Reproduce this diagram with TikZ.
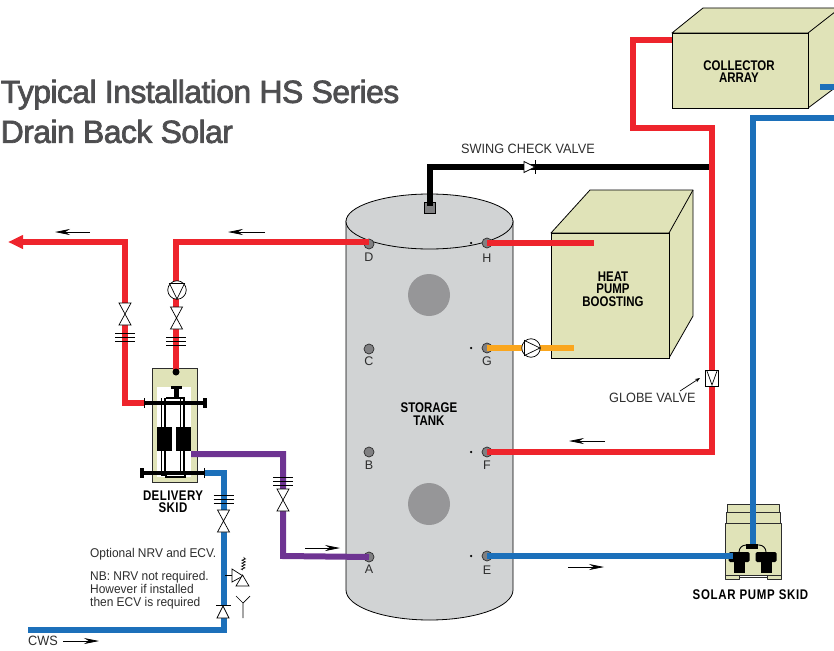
\documentclass[tikz,border=0pt]{standalone}
\usepackage{fontspec}
\setmainfont{Liberation Sans}
\newfontfamily\condfont[FakeStretch=0.82]{Liberation Sans}
\newfontfamily\labelfont[FakeStretch=0.94]{Liberation Sans}
\newfontfamily\titlefont[FakeBold=2.2, LetterSpace=-1.9]{Liberation Sans}
\usetikzlibrary{arrows.meta, decorations.pathmorphing}
\definecolor{pipered}{RGB}{238, 36, 44}
\definecolor{pipeblue}{RGB}{28, 112, 186}
\definecolor{pipepurple}{RGB}{110, 52, 146}
\definecolor{pipeorange}{RGB}{250, 166, 30}
\definecolor{khaki}{RGB}{224, 227, 184}
\definecolor{tankgrey}{RGB}{209, 211, 212}
\definecolor{patchgrey}{RGB}{150, 150, 152}
\definecolor{portgrey}{RGB}{128, 128, 130}
\definecolor{titlegrey}{RGB}{78, 78, 80}
\definecolor{inkgrey}{RGB}{45, 45, 45}
% bow-tie valve, centred at (x,y): vertical pipe
\newcommand{\gatevalve}[2]{
	\fill[white] (#1-6,#2-11) rectangle (#1+6,#2+11);
	\draw[symbol] (#1-6,#2-11) -- (#1+6,#2-11) -- (#1-6,#2+11) -- (#1+6,#2+11) -- cycle;
}
% three short lines across a vertical pipe
\newcommand{\flanges}[2]{
	\foreach \dy in {-4,0,4}
		\draw[thin, black] (#1-10,#2+\dy) -- (#1+10,#2+\dy);
}

\begin{document}
\begin{tikzpicture}[
	x=1pt, y=-1pt,
	>=Stealth,
	% Styles for the pipes, boxes and labels
	pipe/.style={line width=6pt, line cap=butt, line join=miter},
	redpipe/.style={pipe, draw=pipered},
	bluepipe/.style={pipe, draw=pipeblue},
	blackpipe/.style={pipe, draw=black},
	purplepipe/.style={pipe, draw=pipepurple},
	orangepipe/.style={pipe, draw=pipeorange},
	box/.style={draw=black, line width=0.8pt, fill=khaki, line join=round},
	symbol/.style={draw=black, line width=0.7pt, fill=white, line join=miter},
	portnode/.style={circle, draw=inkgrey, line width=0.7pt, fill=portgrey, minimum size=10pt, inner sep=0pt},
	dotnode/.style={circle, fill=black, minimum size=2.5pt, inner sep=0pt},
	flowarrow/.style={-{Stealth[length=15pt, width=6pt]}, line width=0.7pt, draw=black},
	boxtext/.style={font=\condfont\bfseries\fontsize{14}{12.5}\selectfont, align=center, text=black, inner sep=0pt},
	labeltext/.style={font=\labelfont\fontsize{13.5}{12.5}\selectfont, text=inkgrey, inner sep=0pt},
	notetext/.style={font=\labelfont\fontsize{12.7}{12.7}\selectfont, text=inkgrey, inner sep=0pt},
	porttext/.style={font=\fontsize{12.5}{13}\selectfont, text=inkgrey, inner sep=0pt},
	titletext/.style={font=\titlefont\fontsize{32}{40}\selectfont, text=titlegrey, align=left, inner sep=0pt, anchor=north west}
	]
	\useasboundingbox (0,0) rectangle (834,650);

	% ==========================================
	% 1. TITLE
	% ==========================================
	\node[titletext] (title) at (0.5,79.5) {Typical Installation HS Series\\Drain Back Solar};

	% ==========================================
	% 2. STORAGE TANK
	% ==========================================
	\draw[fill=tankgrey, draw=black, line width=0.8pt] (346,221) -- (346,590) arc[start angle=180, end angle=360, x radius=83.5pt, y radius=30pt] -- (513,221) -- cycle;
	\draw[fill=tankgrey, draw=black, line width=0.8pt] (429.5,221.5) ellipse[x radius=83.5pt, y radius=27.5pt];
	\node[circle, fill=patchgrey, minimum size=42pt, inner sep=0pt] (patchtop) at (429,295) {};
	\node[circle, fill=patchgrey, minimum size=42pt, inner sep=0pt] (patchbottom) at (429,504) {};
	\node[boxtext] (tanklabel) at (429,414) {STORAGE\\TANK};

	% Ports and their letters
	\foreach \name/\px/\py/\ly in {A/369/557/569, B/369/452/465, C/369/349/361, D/369/244/257, E/487/556/570, F/487/452/465, G/487/348/361, H/487/243/258} {
		\node[portnode] (port\name) at (\px,\py) {};
		\node[porttext] (letter\name) at (\px,\ly) {\name};
	}
	\foreach \dy in {243,348,452,556}
		\node[dotnode] (dot\dy) at (471,\dy) {};

	% ==========================================
	% 3. COLLECTOR AND HEAT PUMP BOXES
	% ==========================================
	\draw[box] (672,33) -- (703,8) -- (840,8) -- (840,84) -- (808,108) -- (808,33) -- cycle;
	\draw[box] (808,33) -- (840,8);
	\node[draw=black, line width=0.8pt, fill=khaki, minimum width=136pt, minimum height=75pt, inner sep=0pt] (collector) at (740,70.5) {};
	\node[boxtext] (collectorlabel) at (739,71.5) {COLLECTOR\\ARRAY};

	\draw[box] (551,233) -- (590,190) -- (693,190) -- (693,316) -- (669,358) -- (669,233) -- cycle;
	\draw[box] (669,233) -- (693,190);
	\node[draw=black, line width=0.8pt, fill=khaki, minimum width=118pt, minimum height=125pt, inner sep=0pt] (heatpump) at (610,295.5) {};
	\node[boxtext] (heatpumplabel) at (613,289) {HEAT\\PUMP\\BOOSTING};

	% ==========================================
	% 4. DELIVERY SKID
	% ==========================================
	\node[draw=inkgrey, line width=0.8pt, fill=khaki, minimum width=45pt, minimum height=114pt, inner sep=0pt] (deliveryskid) at (174.5,425) {};
	\node[fill=white, minimum width=34pt, minimum height=90pt, inner sep=0pt] (skidwindow) at (174,432) {};
	\node[boxtext, font=\condfont\bfseries\addfontfeature{LetterSpace=3}\fontsize{14}{12.5}\selectfont] (deliverylabel) at (173,501.5) {DELIVERY\\SKID};

	% ==========================================
	% 5. SOLAR PUMP SKID
	% ==========================================
	\draw[box, draw=inkgrey] (727,504) rectangle (779,512);
	\draw[box, draw=inkgrey] (726,512) rectangle (780,523);
	\draw[box, draw=inkgrey] (725,523) rectangle (781,575);
	\draw[box, draw=inkgrey] (725,575) rectangle (739,579);
	\draw[box, draw=inkgrey] (767,575) rectangle (781,579);
	\draw[draw=inkgrey, line width=0.8pt, fill=white] (739,575) rectangle (767,577.5);
	\node[boxtext, font=\condfont\bfseries\addfontfeature{LetterSpace=5}\fontsize{14}{12.5}\selectfont] (solarlabel) at (750.5,595) {SOLAR PUMP SKID};

	% ==========================================
	% 6. PIPES
	% ==========================================
	% Named bends and free ends
	\coordinate (ventport) at (430,207);
	\coordinate (ventbend) at (430,167);
	\coordinate (ventend) at (709,167);
	\coordinate (collectorin) at (672,40);
	\coordinate (redtopleft) at (633,40);
	\coordinate (redmidleft) at (633,128);
	\coordinate (redmidright) at (712,128);
	\coordinate (redlow) at (712,452);
	\coordinate (collectorout) at (834,118);
	\coordinate (bluecorner) at (753,118);
	\coordinate (bluedrop) at (753,546);
	\coordinate (bluepump) at (733,556);
	\coordinate (hpflow) at (594,243);
	\coordinate (hpreturn) at (574,348);
	\coordinate (topbend) at (176,242);
	\coordinate (skidtop) at (176,372);
	\coordinate (loadend) at (8,242);
	\coordinate (loadbend) at (125,242);
	\coordinate (loadlow) at (125,403);
	\coordinate (loadskid) at (145,403);
	\coordinate (skidpurple) at (191,454);
	\coordinate (purplebend) at (283,454);
	\coordinate (purplelow) at (283,556);
	\coordinate (skidblue) at (204,473);
	\coordinate (cwsbend) at (224,473);
	\coordinate (cwslow) at (224,630);
	\coordinate (cwsend) at (28,630);
	\coordinate (collectorstub) at (820,87);
	\coordinate (collectorstubend) at (834,87);

	\draw[blackpipe] (ventport) -- (ventbend) -- (ventend);
	\draw[redpipe] (collectorin) -- (redtopleft) -- (redmidleft) -- (redmidright) -- (redlow) -- (portF.center);
	\draw[bluepipe] (collectorout) -- (bluecorner) -- (bluedrop);
	\draw[bluepipe] (collectorstub) -- (collectorstubend);
	\draw[bluepipe] (portE.center) -- (bluepump);
	\draw[redpipe] (portH.center) -- (hpflow);
	\draw[orangepipe] (portG.center) -- (hpreturn);
	\draw[redpipe] (portD.center |- topbend) -- (topbend) -- (skidtop);
	\draw[redpipe, -{Triangle[length=15pt, width=13pt]}] (loadskid) -- (loadlow) -- (loadbend) -- (loadend);
	\draw[purplepipe] (skidpurple) -- (purplebend) -- (purplelow) -- (portA.center);
	\draw[bluepipe] (skidblue) -- (cwsbend) -- (cwslow) -- (cwsend);

	% Vent square on top of the tank
	\node[draw=black, line width=0.8pt, fill=portgrey, minimum size=11pt, inner sep=0pt] (ventbox) at (430,208) {};
	\draw[blackpipe] (ventbend) -- (430,206);

	% ==========================================
	% 7. VALVES AND PUMPS
	% ==========================================
	% Swing check valve
	\draw[symbol] (524,161.5) -- (535,167) -- (524,172.5) -- cycle;
	\draw[black, line width=0.8pt] (535,160) -- (535,174);

	% Globe valve
	\node[draw=black, line width=0.7pt, fill=white, minimum width=13pt, minimum height=16pt, inner sep=0pt] (globevalve) at (712,378) {};
	\draw[black, line width=0.7pt] (707,371) -- (712,385) -- (717,371);

	% Circulators
	\node[circle, symbol, minimum size=18.5pt, inner sep=0pt] (pumpG) at (531,348) {};
	\draw[black, line width=0.7pt] (524.5,340.5) -- (540,348) -- (524.5,355.5) -- cycle;
	\node[circle, symbol, minimum size=18.5pt, inner sep=0pt] (pumpD) at (177,290) {};
	\draw[black, line width=0.7pt] (169.5,283.5) -- (177,299) -- (184.5,283.5) -- cycle;

	% Isolating valves and flanges
	\gatevalve{125}{314}
	\flanges{125}{337}
	\gatevalve{176.5}{318}
	\flanges{176}{341}
	\gatevalve{283}{500}
	\flanges{283}{481}
	\gatevalve{223.5}{521}
	\flanges{223.5}{499}

	% NRV on the cold feed
	\fill[white] (217,606) rectangle (229,618);
	\draw[symbol] (217,618) -- (229,618) -- (223,606) -- cycle;
	\draw[black, line width=0.8pt] (216,605.5) -- (231,605.5);

	% ECV with spring and tundish
	\coordinate (ecvroot) at (225,575);
	\coordinate (ecvstub) at (232,575);
	\draw[black, line width=0.7pt] (ecvroot) -- (ecvstub);
	\draw[symbol] (232,569) -- (243,576) -- (232,582) -- cycle;
	\draw[symbol] (236,586) -- (249,586) -- (242.5,575) -- cycle;
	\draw[black, line width=0.6pt, decorate, decoration={zigzag, amplitude=1.8pt, segment length=3pt}] (243,570) -- (244,557);
	\draw[black, line width=0.7pt] (236,596) -- (243,603) -- (250,596) (243,603) -- (243,618);

	% ==========================================
	% 8. SKID INTERNALS
	% ==========================================
	% Twin pipe columns of the delivery skid
	\foreach \cx in {163,182} {
		\draw[black, line width=5pt] (\cx,398) -- (\cx,476);
		\draw[white, line width=1.8pt] (\cx,398) -- (\cx,474);
	}
	\draw[black, line width=1.4pt, fill=white] (166,477) rectangle (185,472);
	\draw[black, line width=1.4pt] (166,398) -- (185,398);
	\fill[black] (157,427) rectangle (172,451);
	\fill[black] (176,427) rectangle (191,451);
	\fill[black] (171,386) rectangle (182,389);
	\fill[black] (174,386) rectangle (179,399);
	\fill[black] (176,372) circle[radius=3.5pt];
	\draw[black, line width=4.5pt] (144,403) -- (206,403);
	\draw[black, line width=1pt] (144,398) -- (144,408);
	\draw[black, line width=3.5pt] (205,398) -- (205,408);
	\draw[black, line width=4.5pt] (142,473) -- (204,473);
	\draw[black, line width=3.5pt] (142,468) -- (142,478);
	\draw[black, line width=1pt] (204,468) -- (204,478);

	% Solar pump heads
	\draw[black, line width=0.9pt] (739,552) arc[start angle=180, end angle=90, radius=7pt] -- (759,545) arc[start angle=90, end angle=0, radius=7pt];
	\fill[black] (746,544) rectangle (758,548.5);
	\foreach \hx in {739,766} {
		\fill[black, rounded corners=1.5pt] (\hx-10.5,552) rectangle (\hx+10.5,562);
		\fill[black] (\hx-5.5,560) rectangle (\hx+5.5,573);
	}
	\draw[bluepipe] (725,556) -- (bluepump);
	\draw[bluepipe] (753,540) -- (753,544);

	% ==========================================
	% 9. FLOW ARROWS AND LABELS
	% ==========================================
	\coordinate (flowA) at (90,232);
	\coordinate (flowAtip) at (55,232);
	\coordinate (flowB) at (265,232);
	\coordinate (flowBtip) at (228,232);
	\coordinate (flowC) at (605,441);
	\coordinate (flowCtip) at (569,441);
	\coordinate (flowD) at (305,548);
	\coordinate (flowDtip) at (340,548);
	\coordinate (flowE) at (568,567);
	\coordinate (flowEtip) at (604,567);
	\coordinate (flowF) at (63,641);
	\coordinate (flowFtip) at (99,641);
	\foreach \from/\to in {flowA/flowAtip, flowB/flowBtip, flowC/flowCtip, flowD/flowDtip, flowE/flowEtip, flowF/flowFtip}
		\draw[flowarrow] (\from) -- (\to);

	\node[labeltext, anchor=west] (swinglabel) at (461,149) {SWING CHECK VALVE};
	\node[labeltext, anchor=west] (globelabel) at (609,398) {GLOBE VALVE};
	\coordinate (globetail) at (680,391);
	\coordinate (globetip) at (700,378);
	\draw[-{Stealth[length=5pt]}, line width=0.7pt] (globetail) -- (globetip);
	\node[labeltext, anchor=west] (cwslabel) at (28,641) {CWS};
	\node[notetext, anchor=west] (optlabel) at (90,554) {Optional NRV and ECV.};
	\node[notetext, anchor=north west, align=left] (nblabel) at (90,571.5) {NB: NRV not required.\\However if installed\\then ECV is required};
\end{tikzpicture}
\end{document}
